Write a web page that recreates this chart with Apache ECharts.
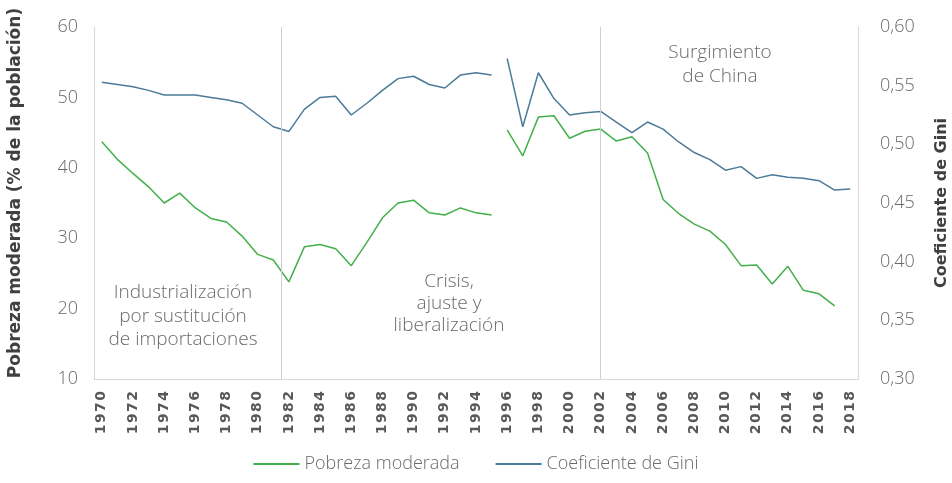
<!DOCTYPE html>
<html>
<head>
<meta charset="utf-8">
<script src="https://cdn.jsdelivr.net/npm/echarts@6/dist/echarts.min.js"></script>
<style>
  html, body { margin: 0; padding: 0; background: #fff; }
  #chart { width: 952px; height: 483px; }
</style>
</head>
<body>
<div id="chart"></div>
<script>
const years = []
for (let y = 1970; y <= 2018; y++) years.push(String(y))

// pobreza moderada (% de la población)
const povertyBefore = [43.7, 41.2, 39.2, 37.3, 35.0, 36.4, 34.3, 32.8, 32.3, 30.3, 27.7, 26.9, 23.8,
  28.8, 29.1, 28.5, 26.1, 29.4, 32.9, 35.0, 35.4, 33.6, 33.3, 34.3, 33.6, 33.3] // 1970-1995
const povertyAfter = [45.4, 41.7, 47.2, 47.4, 44.2, 45.2, 45.5, 43.8, 44.4, 42.1, 35.5, 33.5, 32.0,
  31.0, 29.1, 26.1, 26.2, 23.5, 26.0, 22.6, 22.1, 20.4] // 1996-2017

// coeficiente de Gini
const giniBefore = [0.553, 0.551, 0.549, 0.546, 0.542, 0.542, 0.542, 0.540, 0.538, 0.535, 0.525, 0.515, 0.511,
  0.530, 0.540, 0.541, 0.525, 0.535, 0.546, 0.556, 0.558, 0.551, 0.548, 0.559, 0.561, 0.559] // 1970-1995
const giniAfter = [0.573, 0.515, 0.561, 0.539, 0.525, 0.527, 0.528, 0.519, 0.510, 0.519, 0.513, 0.502, 0.493,
  0.487, 0.478, 0.481, 0.471, 0.474, 0.472, 0.471, 0.469, 0.461, 0.462] // 1996-2018

// separadores de periodos (en años)
const dividers = [1981.5, 2002]

const leftTicks = { min: 10, max: 60, interval: 10 }
const rightTicks = { min: 0.30, max: 0.60, interval: 0.05 }

const pad = (arr, startYear) => years.map(y => {
  const i = Number(y) - startYear
  return i >= 0 && i < arr.length ? arr[i] : null
})

const GREEN = '#43b04a'
const BLUE = '#4b7b98'
const TXT = '#6a6a6a'
const FONT = 'Open Sans'

const chart = echarts.init(document.getElementById('chart'))

const lineSeries = (name, data, color, yIdx) => ({
  name,
  type: 'line',
  data,
  yAxisIndex: yIdx,
  symbol: 'none',
  connectNulls: false,
  lineStyle: { color, width: 1.5 },
  itemStyle: { color },
  z: 3
})

const option = {
  animation: false,
  textStyle: { fontFamily: FONT },
  grid: { left: 94, right: 94, top: 27, bottom: 104, outerBoundsMode: 'none' },
  legend: {
    bottom: 5,
    left: 'center',
    icon: 'rect',
    itemWidth: 46,
    itemHeight: 2,
    itemGap: 36,
    textStyle: { color: TXT, fontSize: 18, fontFamily: FONT, fontWeight: 300 },
    data: ['Pobreza moderada', 'Coeficiente de Gini']
  },
  xAxis: [{
    type: 'category',
    data: years,
    boundaryGap: true,
    axisLine: { show: true, lineStyle: { color: '#d9d9d9' } },
    axisTick: { show: false },
    axisLabel: {
      interval: 1,
      rotate: 90,
      margin: 12,
      color: '#595959',
      fontSize: 14,
      fontWeight: 'bold',
      fontFamily: 'DejaVu Sans',
      formatter: v => v.split('').join('\u200a')
    },
    splitLine: { show: false }
  }, {
    type: 'value',
    min: 1969.5,
    max: 2018.5,
    show: false
  }],
  yAxis: [{
    type: 'value',
    ...leftTicks,
    name: 'Pobreza moderada (% de la población)',
    nameLocation: 'middle',
    nameGap: 70,
    nameTextStyle: {
      color: '#404040', fontSize: 17, fontWeight: 'bold', fontFamily: 'DejaVu Sans',
      padding: [0, 0, 0, 20]
    },
    axisLine: { show: true, lineStyle: { color: '#d9d9d9' } },
    axisTick: { show: false },
    axisLabel: { color: TXT, fontSize: 18, margin: 16, fontWeight: 300 },
    splitLine: { show: false }
  }, {
    type: 'value',
    ...rightTicks,
    name: 'Coeficiente de Gini',
    nameLocation: 'middle',
    nameGap: 76,
    nameTextStyle: { color: '#404040', fontSize: 16, fontWeight: 'bold', fontFamily: 'DejaVu Sans' },
    axisLine: { show: true, lineStyle: { color: '#d9d9d9' } },
    axisTick: { show: false },
    axisLabel: {
      color: TXT, fontSize: 18, margin: 22, fontWeight: 300,
      formatter: v => v.toFixed(2).replace('.', ',')
    },
    splitLine: { show: false }
  }],
  series: [
    lineSeries('Pobreza moderada', pad(povertyBefore, 1970), GREEN, 0),
    lineSeries('Pobreza moderada', pad(povertyAfter, 1996), GREEN, 0),
    lineSeries('Coeficiente de Gini', pad(giniBefore, 1970), BLUE, 1),
    lineSeries('Coeficiente de Gini', pad(giniAfter, 1996), BLUE, 1),
    {
      name: 'separadores',
      type: 'line',
      xAxisIndex: 1,
      yAxisIndex: 0,
      data: [],
      markLine: {
        silent: true,
        symbol: 'none',
        label: { show: false },
        lineStyle: { color: '#d0d0d0', type: 'solid', width: 1 },
        data: dividers.map(d => ({ xAxis: d }))
      }
    }
  ],
  graphic: [
    {
      type: 'text', x: 183, y: 281,
      style: {
        text: 'Industrialización\npor sustitución\nde importaciones',
        fill: TXT, font: '300 19px "Open Sans"', align: 'center', lineHeight: 23.5
      }
    },
    {
      type: 'text', x: 449, y: 271,
      style: {
        text: 'Crisis,\najuste y\nliberalización',
        fill: TXT, font: '300 19px "Open Sans"', align: 'center', lineHeight: 22
      }
    },
    {
      type: 'text', x: 720, y: 41,
      style: {
        text: 'Surgimiento\nde China',
        fill: TXT, font: '300 19px "Open Sans"', align: 'center', lineHeight: 24
      }
    }
  ]
}

chart.setOption(option)
</script>
</body>
</html>
